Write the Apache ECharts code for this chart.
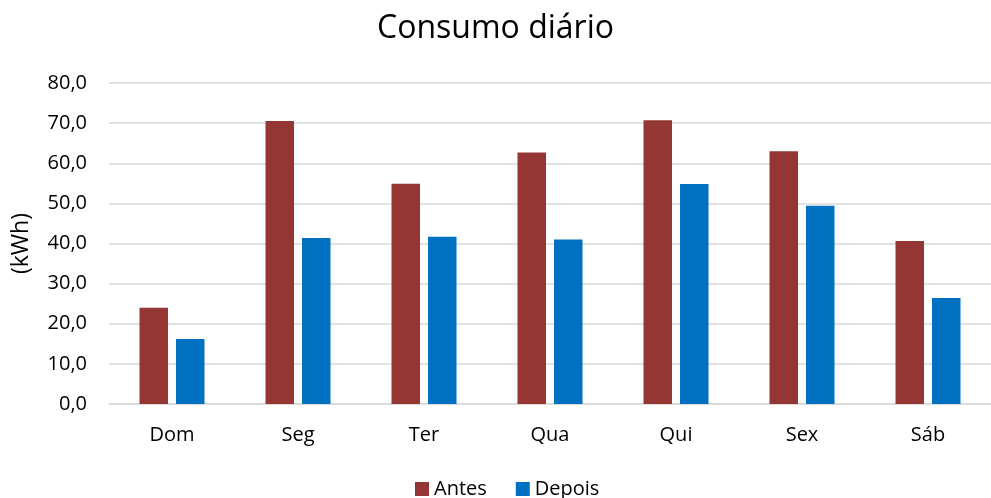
<!DOCTYPE html>
<html>
<head>
<meta charset="utf-8">
<script src="https://cdn.jsdelivr.net/npm/echarts@6/dist/echarts.min.js"></script>
<style>
  html, body { margin: 0; padding: 0; background: #ffffff; }
  #chart { width: 991px; height: 498px; }
</style>
</head>
<body>
<div id="chart"></div>
<script>
// Daily consumption per weekday, before and after (kWh)
const dias = ['Dom', 'Seg', 'Ter', 'Qua', 'Qui', 'Sex', 'Sáb'];
const antes = [24.0, 70.5, 54.9, 62.7, 70.7, 63.0, 40.6];
const depois = [16.2, 41.4, 41.7, 41.0, 54.8, 49.4, 26.4];
const yMin = 0, yMax = 80, yStep = 10;

const FONT = '"Open Sans", "Noto Sans", sans-serif';
const chart = echarts.init(document.getElementById('chart'), null, { renderer: 'canvas' });

chart.setOption({
  animation: false,
  backgroundColor: '#ffffff',
  title: {
    text: 'Consumo diário',
    left: 'center',
    top: 8,
    textStyle: { fontFamily: FONT, fontSize: 32, fontWeight: 'normal', color: '#000000' }
  },
  legend: {
    top: 474,
    left: 410,
    itemWidth: 14,
    itemHeight: 14,
    itemGap: 29,
    icon: 'rect',
    textStyle: { fontFamily: FONT, fontSize: 20, color: '#000000', padding: [0, 0, 0, 0] },
    data: ['Antes', 'Depois']
  },
  grid: { left: 109, top: 83, width: 890, height: 321, containLabel: false },
  xAxis: {
    type: 'category',
    data: dias,
    axisLine: { show: true, lineStyle: { color: '#d9d9d9', width: 1.5 } },
    axisTick: { show: false },
    axisLabel: { fontFamily: FONT, fontSize: 20, color: '#000000', margin: 21 }
  },
  yAxis: {
    type: 'value',
    min: yMin,
    max: yMax,
    interval: yStep,
    name: '(kWh)',
    nameLocation: 'middle',
    nameRotate: 90,
    nameGap: 76,
    nameTextStyle: { fontFamily: FONT, fontSize: 23, color: '#000000' },
    axisLine: { show: false },
    axisTick: { show: false },
    splitLine: { lineStyle: { color: '#d9d9d9', width: 1.5 } },
    axisLabel: {
      fontFamily: FONT, fontSize: 20, color: '#000000', margin: 22,
      formatter: v => v.toFixed(1).replace('.', ',')
    }
  },
  series: [
    {
      name: 'Antes',
      type: 'bar',
      data: antes,
      barWidth: 28.5,
      barGap: '28%',
      itemStyle: { color: '#943634' }
    },
    {
      name: 'Depois',
      type: 'bar',
      data: depois,
      barWidth: 28.5,
      itemStyle: { color: '#0070c0' }
    }
  ]
});
</script>
</body>
</html>
